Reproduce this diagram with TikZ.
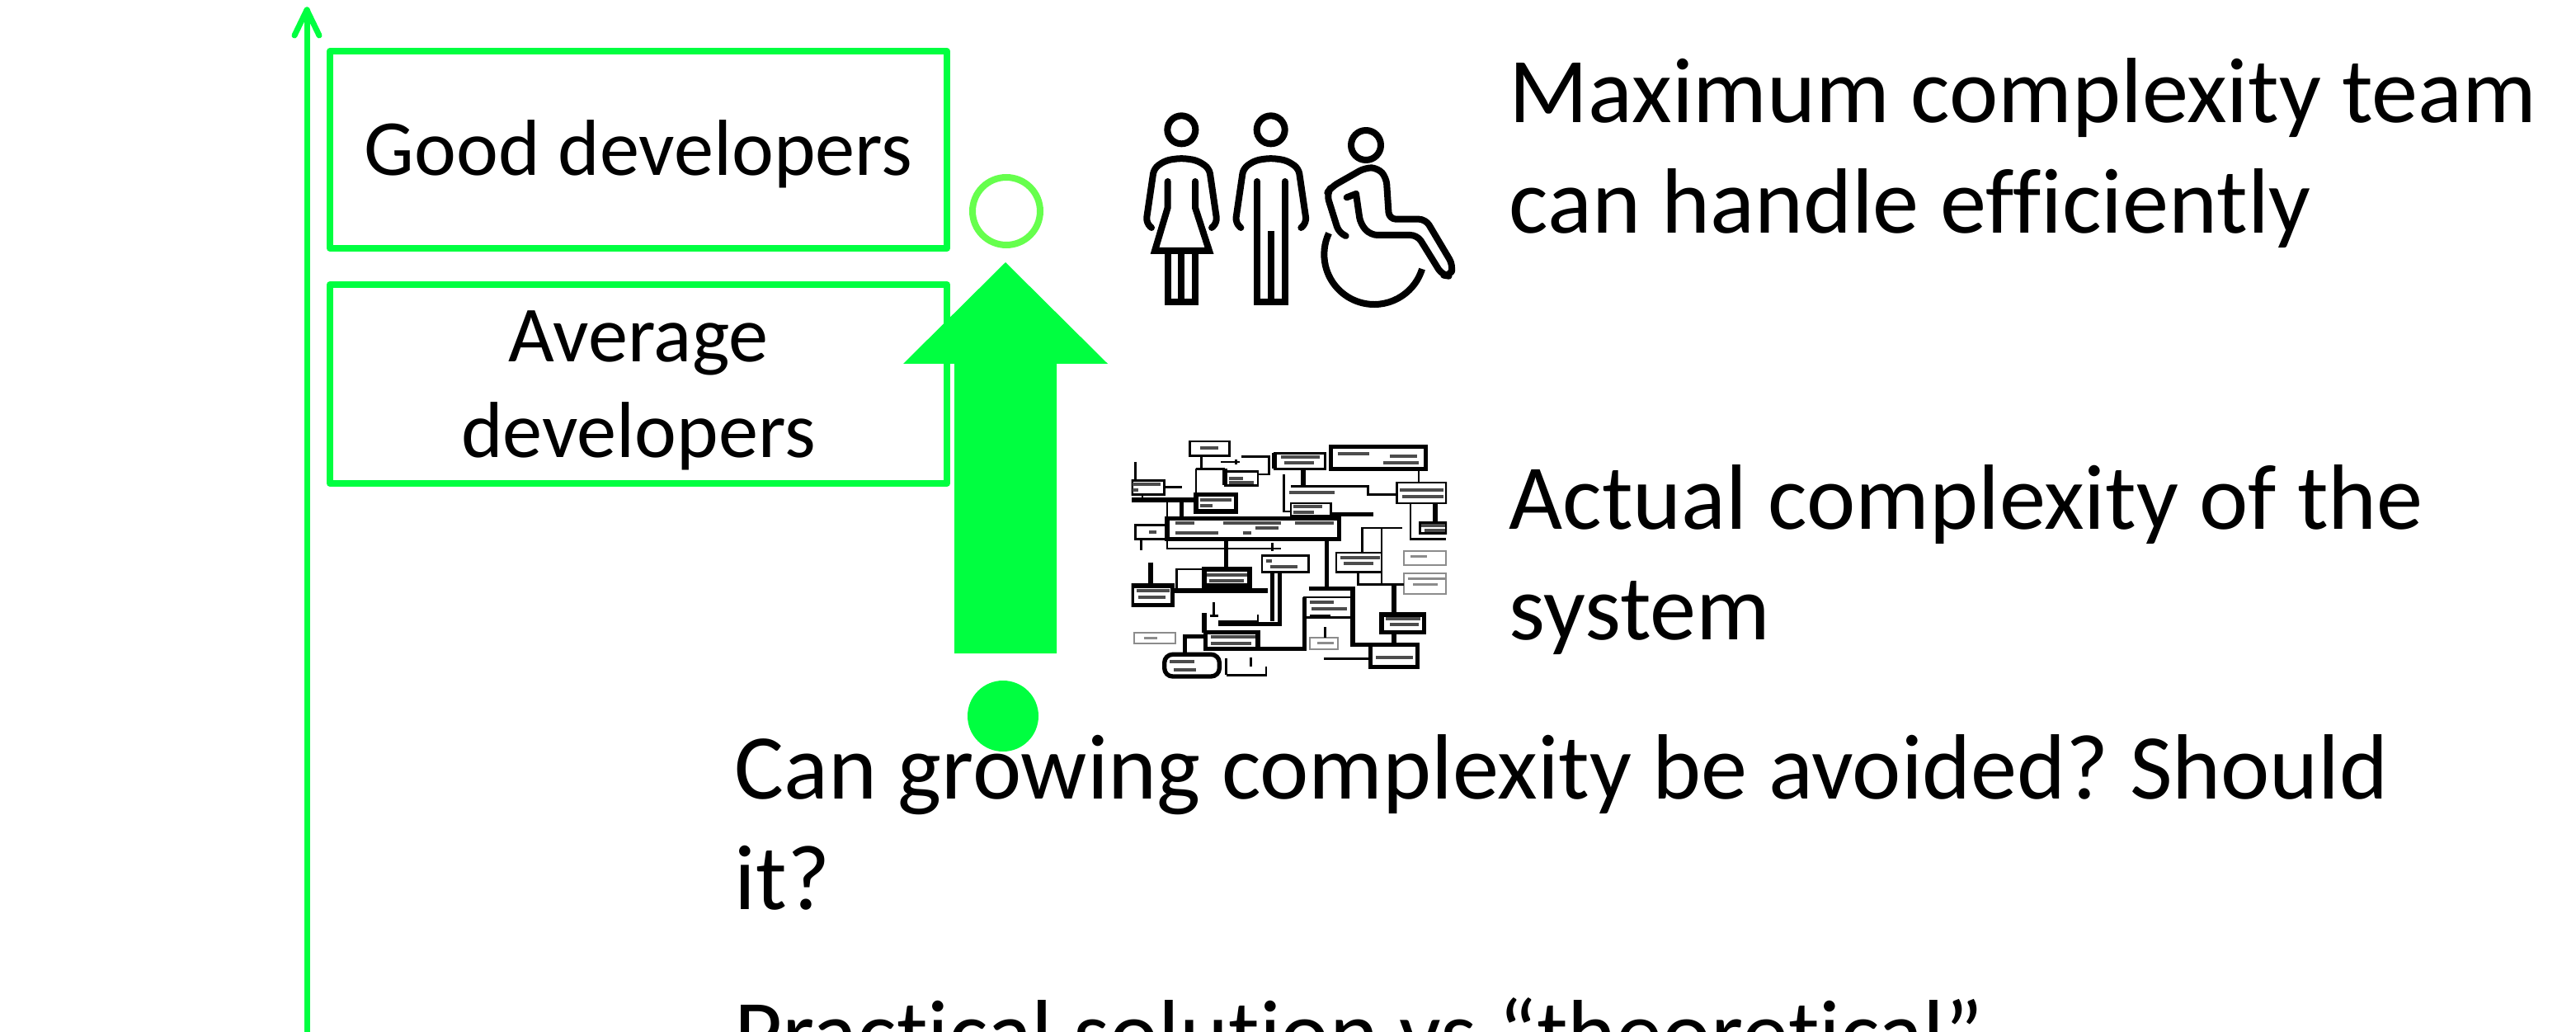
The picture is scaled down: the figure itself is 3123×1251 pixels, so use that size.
\documentclass[tikz,border=0pt]{standalone}
\usepackage{fontspec}
\setmainfont{Carlito}[Ligatures=NoCommon]
\frenchspacing
\definecolor{lime}{RGB}{0,255,64}
\definecolor{softlime}{RGB}{102,255,77}

\begin{document}
\begin{tikzpicture}[x=0.3pt,y=-0.3pt,
  devbox/.style={draw=lime, line width=2.4pt, line join=round, inner sep=0pt, minimum width=224.4pt},
  devtext/.style={font=\fontsize{28.9}{33}\selectfont, inner sep=0pt, anchor=base},
  bigtext/.style={font=\fontsize{33.7}{40}\selectfont, inner sep=0pt, anchor=base west},
  axisline/.style={draw=lime, line width=2.1pt, line cap=round, line join=round},
  icon/.style={draw=black, line width=2.4pt, line cap=round, line join=round},
  wire/.style={draw=black, line width=0.8pt},
  heavywire/.style={draw=black, line width=1.6pt},
  faintwire/.style={draw=black!45, line width=0.6pt},
  scribble/.style={draw=black!70, line width=1.2pt},
]
\useasboundingbox (0,0) rectangle (3123,1251);
\clip (0,0) rectangle (3123,1251);
\fill[white] (0,0) rectangle (3123,1251);

% vertical axis with open arrow head
\coordinate (axbot) at (372,1270);
\coordinate (axtop) at (372,12);
\draw[axisline] (axbot) -- (axtop);
\draw[axisline] (axtop) ++(-15,31) -- (axtop) -- ++(15,31);

% developer level boxes
\node[devbox, minimum height=71.7pt] (good) at (774,181.5) {};
\node[devtext] (goodtxt) at (774,213) {Good developers};
\node[devbox, minimum height=72.3pt] (avg) at (774,465.5) {};
\node[devtext] (avgtxt1) at (774,439) {Average};
\node[devtext] (avgtxt2) at (774,554) {developers};

% big upward arrow from the current level to the target level
\coordinate (atip) at (1219,318);
\fill[lime] (atip) -- (1343,441) -- (1281,441) -- (1281,792) -- (1157,792)
  -- (1157,441) -- (1095,441) -- cycle;

% start and target markers
\node[circle, draw=softlime, line width=2.4pt, inner sep=0pt, minimum size=24.6pt] (target) at (1220,256) {};
\node[circle, fill=lime, inner sep=0pt, minimum size=25.8pt] (start) at (1216,868) {};

% captions
\node[bigtext] (max1) at (1829,149) {Maximum complexity team};
\node[bigtext] (max2) at (1829,283) {can handle efficiently};
\node[bigtext] (act1) at (1829,641) {Actual complexity of the};
\node[bigtext] (act2) at (1829,775) {system};
\node[bigtext] (q1) at (890,968) {Can growing complexity be avoided? Should};
\node[bigtext] (q2) at (890,1102) {it?};
\node[bigtext] (q3) at (890,1290) {Practical solution vs “theoretical”};

% team pictogram
\begin{scope}[shift={(1360,100)}, scale=1/3]
  % woman
  \draw[icon] (217,172) circle[radius=51];
  \draw[icon, rounded corners=2pt] (108,528) -- (88,510) -- (117,312) -- (160,283)
    -- (217,275) -- (274,283) -- (318,312) -- (347,510) -- (327,528);
  \draw[icon, line join=miter] (167,360) -- (167,455) -- (120,612) -- (318,612) -- (267,455) -- (267,360);
  \draw[icon, line join=miter, line cap=butt] (168,612) -- (168,798) -- (268,798) -- (268,612);
  \draw[icon, line cap=butt] (217,612) -- (217,798);
  % man
  \draw[icon] (542,172) circle[radius=51];
  \draw[icon, rounded corners=2pt] (433,528) -- (413,510) -- (442,312) -- (485,283)
    -- (542,275) -- (599,283) -- (643,312) -- (672,510) -- (652,528);
  \draw[icon, line join=miter] (492,360) -- (492,798) -- (593,798) -- (593,360);
  \draw[icon, line cap=butt] (542,540) -- (542,798);
  % wheelchair user
  \draw[icon] (888,228) circle[radius=54];
  \draw[icon, rounded corners=2.5pt] (815,558) -- (790,548) -- (745,405) -- (762,380)
    -- (885,310) -- (930,310) -- (962,345) -- (972,497) -- (1105,497) -- (1205,665)
    -- (1195,705) -- (1165,700) -- (1075,555) -- (905,555) -- (868,515) -- (852,405);
  \draw[icon] (852,405) -- (818,418);
  \draw[icon, line cap=butt] (918,625) ++(17:182) arc[start angle=17, end angle=205, radius=182];
\end{scope}

% system block diagram
\begin{scope}[shift={(1360,500)}, scale=1/3]
  \clip (35,85) rectangle (1182,978);
  % boxes
  \draw[heavywire] (760,125) rectangle (1105,205);
  \draw[heavywire] (165,385) rectangle (790,460);
  \draw[heavywire] (270,298) rectangle (415,360);
  \draw[heavywire] (300,570) rectangle (465,630);
  \draw[heavywire] (305,800) rectangle (495,860);
  \draw[heavywire, rounded corners=3pt] (155,880) rectangle (355,960);
  \draw[heavywire] (905,845) rectangle (1075,925);
  \draw[heavywire] (945,735) rectangle (1100,800);
  \draw[wire] (780,510) rectangle (945,580);
  \draw[heavywire] (37,630) rectangle (185,700);
  \draw[wire] (510,520) rectangle (680,580);
  \draw[wire] (1000,255) rectangle (1180,330);
  \draw[wire] (615,330) rectangle (760,375);
  \draw[wire] (50,410) rectangle (165,460);
  \draw[wire] (37,248) rectangle (155,298);
  \draw[wire] (248,105) rectangle (392,158);
  \draw[wire] (555,148) rectangle (740,205);
  \draw[heavywire] (555,148) -- (555,205);
  \draw[wire] (665,672) rectangle (835,745);
  \draw[wire] (1085,400) rectangle (1180,440);
  \draw[wire] (375,215) rectangle (495,265);
  \draw[heavywire] (375,205) -- (375,265);
  \draw[faintwire] (1025,505) rectangle (1180,555);
  \draw[faintwire] (1025,585) rectangle (1180,660);
  \draw[faintwire] (45,800) rectangle (195,840);
  \draw[faintwire] (685,820) rectangle (785,860);
  \draw[wire] (380,955) -- (380,895) (380,955) -- (525,955) -- (525,925);
  % connecting lines
  \draw[heavywire] (37,318) -- (270,318);
  \draw[wire] (270,205) -- (270,360);
  \draw[wire] (270,205) -- (375,205);
  \draw[wire] (360,180) -- (430,180) (415,172) -- (415,190);
  \draw[wire] (290,158) -- (290,205);
  \draw[wire] (435,160) -- (535,160) -- (535,225) -- (495,225);
  \draw[heavywire] (218,318) -- (218,385);
  \draw[wire] (75,298) -- (75,318);
  \draw[wire] (165,318) -- (165,495) -- (580,495);
  \draw[wire] (548,475) -- (548,505);
  \draw[heavywire] (380,460) -- (380,560);
  \draw[wire] (200,648) -- (200,570) -- (300,570);
  \draw[heavywire] (185,648) -- (530,648);
  \draw[heavywire] (105,545) -- (105,620);
  \draw[heavywire] (745,460) -- (745,635);
  \draw[heavywire] (660,205) -- (660,268);
  \draw[wire] (615,268) -- (895,268) -- (895,298) -- (1000,298);
  \draw[wire] (590,225) -- (590,360) -- (615,360);
  \draw[heavywire] (760,370) -- (915,370);
  \draw[wire] (1080,205) -- (1080,255);
  \draw[wire] (1050,330) -- (1050,460) -- (1180,460);
  \draw[heavywire] (1140,330) -- (1140,400);
  \draw[wire] (945,420) -- (1020,420) (875,510) -- (875,420) -- (945,420) -- (945,510);
  \draw[wire] (860,580) -- (860,625) -- (1025,625);
  \draw[wire] (945,580) -- (945,620);
  \draw[heavywire] (990,625) -- (990,735);
  \draw[heavywire] (575,580) -- (575,770) -- (350,770);
  \draw[heavywire] (548,580) -- (548,760);
  \draw[heavywire] (300,730) -- (300,800);
  \draw[heavywire] (305,815) -- (230,815) -- (230,880);
  \draw[heavywire] (495,860) -- (665,860) -- (665,672);
  \draw[heavywire] (680,640) -- (840,640) -- (840,845) -- (905,845);
  \draw[heavywire] (990,800) -- (990,845);
  \draw[wire] (735,895) -- (905,895);
  \draw[wire] (740,780) -- (740,820);
  \draw[wire] (470,890) -- (470,925);
  \draw[wire] (335,690) -- (335,740) (320,740) -- (350,740);
  \draw[wire] (350,760) -- (495,760) -- (495,735);
  \draw[wire] (685,740) -- (760,740);
  \draw[wire] (50,180) -- (50,248);
  \draw[wire] (155,272) -- (218,272);
  \draw[wire] (70,460) -- (70,500);
  % illegible labels inside the boxes
  \draw[scribble] (785,150) -- (900,150) (975,160) -- (1075,160) (950,182) -- (1080,182);
  \draw[scribble] (195,402) -- (265,402) (370,402) -- (580,402) (630,402) -- (770,402)
    (195,437) -- (350,437) (440,437) -- (470,437) (485,420) -- (570,420);
  \draw[scribble] (285,318) -- (400,318) (285,338) -- (330,338);
  \draw[scribble] (308,590) -- (455,590) (318,612) -- (445,612);
  \draw[scribble] (325,815) -- (485,815) (325,840) -- (470,840);
  \draw[scribble] (175,905) -- (265,905) (190,935) -- (270,935);
  \draw[scribble] (925,890) -- (1060,890);
  \draw[scribble] (960,750) -- (1085,750) (975,772) -- (1080,772);
  \draw[scribble] (795,528) -- (940,528) (808,548) -- (915,548);
  \draw[scribble] (55,648) -- (175,648) (60,672) -- (160,672);
  \draw[scribble] (525,540) -- (545,540) (540,560) -- (640,560);
  \draw[scribble] (1010,282) -- (1170,282) (1020,305) -- (1170,305);
  \draw[scribble] (625,343) -- (730,343) (625,362) -- (700,362);
  \draw[scribble] (610,292) -- (775,292);
  \draw[scribble] (40,262) -- (140,262) (40,282) -- (60,282);
  \draw[scribble] (285,130) -- (350,130);
  \draw[scribble] (580,163) -- (720,163) (590,182) -- (700,182);
  \draw[scribble] (390,240) -- (440,240) (390,255) -- (480,255);
  \draw[scribble] (685,690) -- (770,690) (690,715) -- (820,715);
  \draw[scribble] (1090,412) -- (1175,412) (1100,430) -- (1175,430);
  \draw[scribble] (100,435) -- (125,435);
  \draw[faintwire, line width=0.9pt] (1050,525) -- (1110,525) (1040,605) -- (1175,605) (1060,625) -- (1150,625);
  \draw[faintwire, line width=0.9pt] (80,820) -- (130,820) (710,838) -- (770,838);
\end{scope}
\end{tikzpicture}
\end{document}
